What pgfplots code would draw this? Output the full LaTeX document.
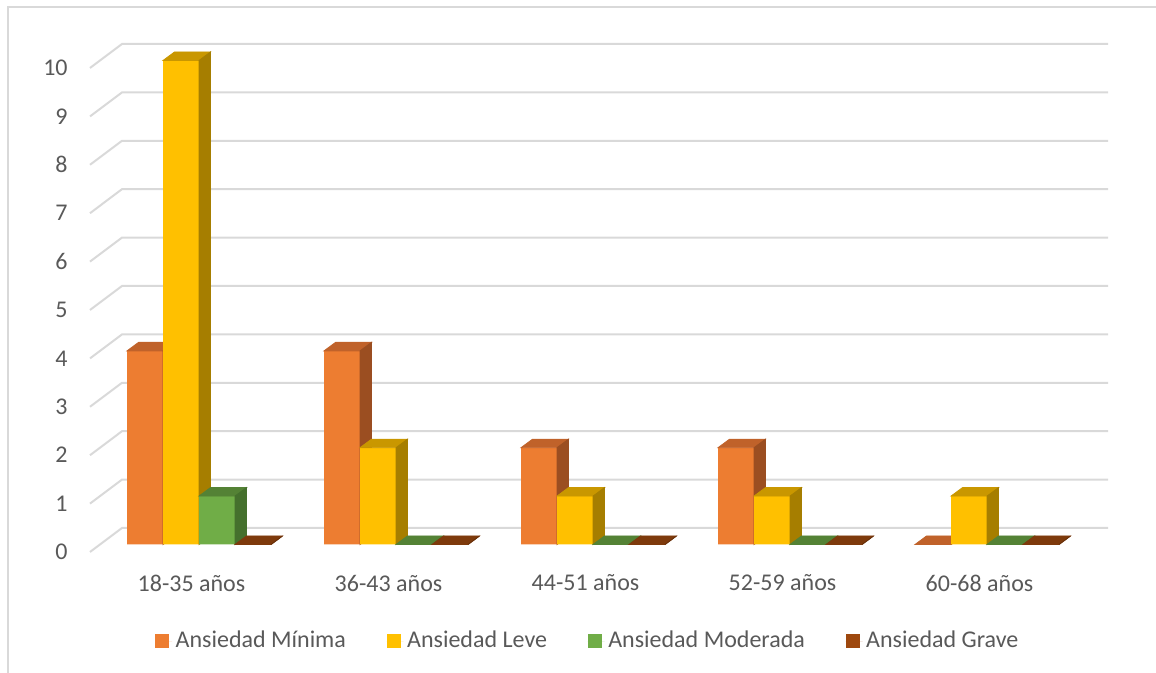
\documentclass[border=0pt]{standalone}
\usepackage{pgfplots}
\usepackage{pgfplotstable}
\pgfplotsset{compat=1.18}
\usepackage{fontspec}
\setmainfont{Carlito}

\definecolor{txt}{HTML}{595959}
\definecolor{gridc}{HTML}{D9D9D9}
\definecolor{oF}{HTML}{ED7D31}\definecolor{oT}{HTML}{C0622A}\definecolor{oS}{HTML}{9B4E21}
\definecolor{yF}{HTML}{FFC000}\definecolor{yT}{HTML}{C99700}\definecolor{yS}{HTML}{A67E00}
\definecolor{gF}{HTML}{70AD47}\definecolor{gT}{HTML}{548235}\definecolor{gS}{HTML}{45702D}
\definecolor{bF}{HTML}{9E480E}\definecolor{bT}{HTML}{7E3A0C}\definecolor{bS}{HTML}{67300A}

% number of people per age group and anxiety level
\pgfplotstableread{
g minima leve moderada grave
0 4 10 1 0
1 4 2  0 0
2 2 1  0 0
3 2 1  0 0
4 0 1  0 0
}\ansiedad

\pgfdeclareplotmark{void}{}

% one layer per series, so each bar's front hides the side of the bar before it
\pgfdeclarelayer{sA}\pgfdeclarelayer{sB}\pgfdeclarelayer{sC}\pgfdeclarelayer{sD}
\pgfplotsset{
  layers/barlayers/.define layer set={
    axis background,axis grid,main,sA,sB,sC,sD,axis ticks,axis lines,
    axis tick labels,axis descriptions,axis foreground}{},
  % top and side faces of each bar, drawn from the bar's top front edge
  caps/.style n args={3}{
    forget plot, on layer=#3, mark layer=like plot,
    scatter, only marks, mark=void,
    visualization depends on={rawy \as \barv},
    scatter/@pre marker code/.code={
      \fill[#1] (-9pt,0pt) -- (-3.25pt,4.25pt) -- (14.75pt,4.25pt) -- (9pt,0pt) -- cycle;
      \fill[#2] (9pt,0pt) -- (14.75pt,4.25pt) -- (14.75pt,{4.25pt-\barv*24.2pt}) -- (9pt,{-\barv*24.2pt}) -- cycle;
    },
    scatter/@post marker code/.code={},
  },
  front/.style 2 args={ybar, bar width=36, bar shift=0pt, draw=none, fill=#1, on layer=#2,
    legend image code/.code={\fill[#1] (0pt,-3.5pt) rectangle (7pt,3.5pt);
      \path (0pt,0pt) -- (8.5pt,0pt);}},
}

\begin{document}
\begin{tikzpicture}
\begin{axis}[
  set layers=barlayers,
  at={(0,0)}, anchor=south west,
  x=0.5pt, y=24.2pt,
  xmin=0, xmax=1156, ymin=-2.655, ymax=11.25,
  clip=false,
  axis line style={draw=none},
  tick style={draw=none},
  major tick length=0pt,
  xtick={191.5,388.5,585.5,782.5,979.5},
  xticklabels={18-35 años,36-43 años,44-51 años,52-59 años,60-68 años},
  ytick={0,...,10},
  tick label style={font=\fontsize{12}{14}\selectfont, text=txt},
  /pgf/number format/assume math mode=true,
  xticklabel style={anchor=center, yshift=45pt},
  yticklabel style={anchor=east, inner sep=0pt, xshift=34pt, yshift=-3.75pt},
  legend columns=-1,
  legend style={at={(axis cs:588.5,-1.994)}, anchor=center, draw=none, fill=none,
    font=\fontsize{12}{14}\selectfont, text=txt,
    /tikz/every even column/.append style={column sep=18.5pt},
    nodes={inner sep=1.8pt}},
]
% chart frame
\draw[gridc, line width=1pt] (axis cs:7.5,-2.655) -- (axis cs:7.5,11.095) -- (axis cs:1156,11.095);
% back wall and floor-side grid lines
\pgfplotsinvokeforeach{0,...,10}{
  \draw[gridc, line width=1pt] (axis cs:90,{#1-0.155}) -- (axis cs:122,{#1+0.341}) -- (axis cs:1108,{#1+0.341});
}

\addplot[front={oF}{sA}] table[x expr=145+197*\thisrow{g}, y=minima] {\ansiedad};
\addlegendentry{Ansiedad Mínima}
\addplot[caps={oT}{oS}{sA}] table[x expr=145+197*\thisrow{g}, y=minima] {\ansiedad};

\addplot[front={yF}{sB}] table[x expr=181+197*\thisrow{g}, y=leve] {\ansiedad};
\addlegendentry{Ansiedad Leve}
\addplot[caps={yT}{yS}{sB}] table[x expr=181+197*\thisrow{g}, y=leve] {\ansiedad};

\addplot[front={gF}{sC}] table[x expr=217+197*\thisrow{g}, y=moderada] {\ansiedad};
\addlegendentry{Ansiedad Moderada}
\addplot[caps={gT}{gS}{sC}] table[x expr=217+197*\thisrow{g}, y=moderada] {\ansiedad};

\addplot[front={bF}{sD}] table[x expr=253+197*\thisrow{g}, y=grave] {\ansiedad};
\addlegendentry{Ansiedad Grave}
\addplot[caps={bT}{bS}{sD}] table[x expr=253+197*\thisrow{g}, y=grave] {\ansiedad};
\end{axis}
\pgfresetboundingbox
\useasboundingbox (0,0) rectangle (578pt,336.5pt);
\end{tikzpicture}
\end{document}
